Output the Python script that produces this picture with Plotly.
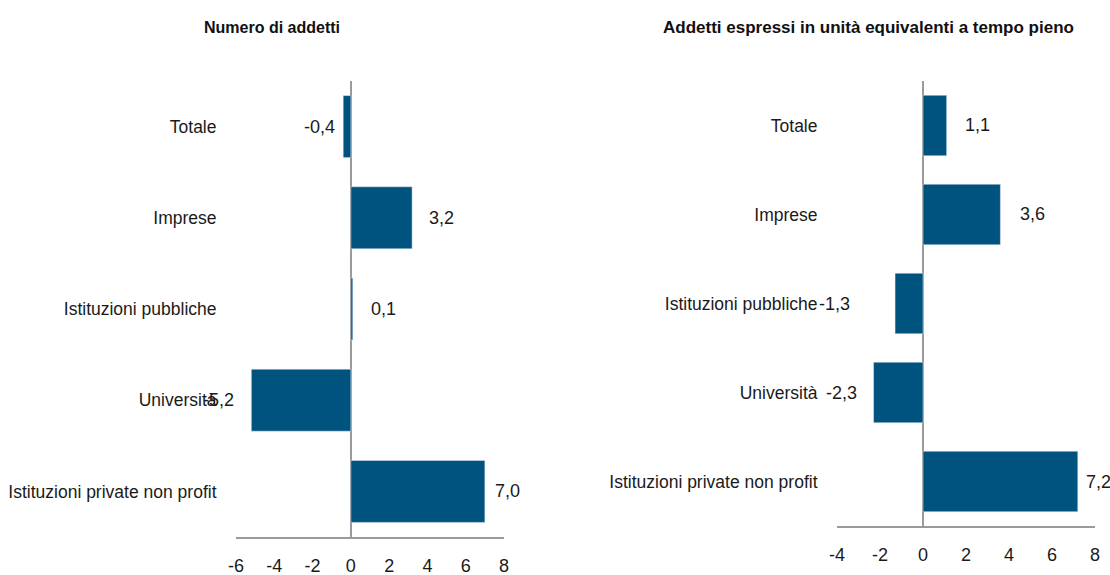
import plotly.graph_objects as go

categories = ["Totale", "Imprese", "Istituzioni pubbliche", "Università", "Istituzioni private non profit"]
addetti = [-0.4, 3.2, 0.1, -5.2, 7.0]
addetti_fte = [1.1, 3.6, -1.3, -2.3, 7.2]
title_left = "Numero di addetti"
title_right = "Addetti espressi in unità equivalenti a tempo pieno"
ticks_left = [-6, -4, -2, 0, 2, 4, 6, 8]
ticks_right = [-4, -2, 0, 2, 4, 6, 8]

# label offsets (style, px)
shift_left = [6, 15, 16, 15, 8]
shift_right = [16, 18, 43, 15, 6]

BAR = "#00527F"
GRAY = "#9a9a9a"
FONT = "Liberation Sans, Arial, sans-serif"
W, H = 1110, 575


def px_x(a, b):
    return [a / W, b / W]


def px_y(top, bottom):
    return [1 - bottom / H, 1 - top / H]


def fmt(v):
    return f"{v:.1f}".replace(".", ",")


fig = go.Figure()
fig.add_trace(go.Bar(x=addetti, y=categories, orientation="h", marker_color=BAR,
                     xaxis="x", yaxis="y", showlegend=False, hoverinfo="x+y"))
fig.add_trace(go.Bar(x=addetti_fte, y=categories, orientation="h", marker_color=BAR,
                     xaxis="x2", yaxis="y2", showlegend=False, hoverinfo="x+y"))

for vals, shifts, xr, yr in [(addetti, shift_left, "x", "y"), (addetti_fte, shift_right, "x2", "y2")]:
    for c, v, s in zip(categories, vals, shifts):
        fig.add_annotation(x=v, y=c, xref=xr, yref=yr, text=fmt(v), showarrow=False,
                           xanchor="left" if v >= 0 else "right",
                           xshift=s if v >= 0 else -s,
                           font=dict(family=FONT, size=18, color="#1a1a1a"))

fig.add_annotation(x=272 / W, y=1 - 27 / H, xref="paper", yref="paper", text=f"<b>{title_left}</b>",
                   showarrow=False, xanchor="center", yanchor="middle",
                   font=dict(family=FONT, size=16, color="#111"))
fig.add_annotation(x=868 / W, y=1 - 27 / H, xref="paper", yref="paper", text=f"<b>{title_right}</b>",
                   showarrow=False, xanchor="center", yanchor="middle",
                   font=dict(family=FONT, size=17, color="#111"))

xcommon = dict(showgrid=False, zeroline=True, zerolinecolor=GRAY, zerolinewidth=2,
               showline=True, linecolor=GRAY, linewidth=2, ticks="outside", ticklen=11,
               tickcolor="rgba(0,0,0,0)", tickfont=dict(family=FONT, size=18, color="#1a1a1a"),
               fixedrange=True, automargin=False)
ycommon = dict(showgrid=False, zeroline=False, showline=False, ticks="outside", ticklen=15,
               tickcolor="rgba(0,0,0,0)", tickfont=dict(family=FONT, size=17.5, color="#1a1a1a"),
               type="category", range=[4.5, -0.5], fixedrange=True, automargin=False)

fig.update_layout(
    width=W, height=H, margin=dict(l=0, r=0, t=0, b=0, autoexpand=False),
    paper_bgcolor="white", plot_bgcolor="white", bargap=0.32,
    xaxis=dict(domain=px_x(236, 504), range=[-6, 8], tickvals=ticks_left,
               ticktext=[str(t) for t in ticks_left], anchor="y", **xcommon),
    yaxis=dict(domain=px_y(81, 537), anchor="x", **ycommon),
    xaxis2=dict(domain=px_x(837, 1095), range=[-4, 8], tickvals=ticks_right,
                ticktext=[str(t) for t in ticks_right], anchor="y2", **xcommon),
    yaxis2=dict(domain=px_y(81, 526), anchor="x2", **ycommon),
)

fig.write_html("out.html", config={"displayModeBar": False},
               post_script="document.body.style.margin='0';")
